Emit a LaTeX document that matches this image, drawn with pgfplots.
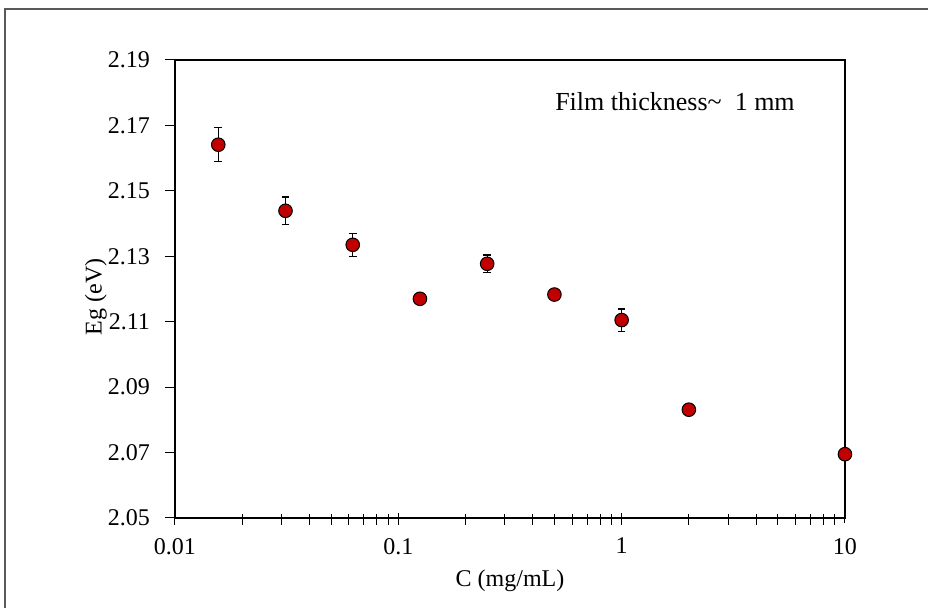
\documentclass[border=0pt]{standalone}
\usepackage{pgfplots}
\pgfplotsset{compat=1.18}
\usepackage{fontspec}
\setmainfont{Liberation Serif}
\definecolor{ptred}{HTML}{C00000}
\begin{document}
\begin{tikzpicture}
\path[use as bounding box] (0,0) rectangle (464pt,304pt);
\draw[line width=0.8pt, black!65] (2.5pt,-2pt) -- (2.5pt,299.5pt) -- (467pt,299.5pt);
\begin{axis}[
  at={(87.5pt,45pt)}, anchor=south west,
  scale only axis, width=335pt, height=229pt,
  xmode=log, xmin=0.01, xmax=10,
  ymin=2.05, ymax=2.19,
  ytick={2.05,2.07,2.09,2.11,2.13,2.15,2.17,2.19},
  xtick={0.01,0.1,1,10},
  xticklabels={0.01,0.1,1,10},
  yticklabel style={/pgf/number format/fixed,/pgf/number format/fixed zerofill,/pgf/number format/precision=2, xshift=-4pt},
  /pgf/number format/assume math mode=true,
  ticklabel style={font=\fontsize{12}{14}\selectfont},
  xticklabel style={yshift=-1.5pt},
  label style={font=\fontsize{12}{14}\selectfont},
  tick pos=left,
  tick align=outside,
  major tick length=5pt,
  minor tick length=5.5pt,
  major x tick style={yshift=2.5pt, line width=0.5pt, black},
  minor x tick style={yshift=2pt, line width=0.5pt, black},
  major y tick style={line width=0.5pt, black},
  ytick style={line width=0.5pt},
  minor y tick num=0,
  axis line style={line width=1pt},
  xlabel={C (mg/mL)},
  ylabel={Eg (eV)},
  xlabel style={at={(axis description cs:0.5,-0.138)}, anchor=center},
  ylabel style={at={(axis description cs:-0.118,0.483)}, anchor=center},
  clip=false,
]
\addplot[only marks, mark=*, mark size=3.4pt,
  mark options={fill=ptred, draw=black, line width=0.5pt},
  error bars/.cd, y dir=both, y explicit,
  error bar style={black, line width=0.6pt},
  error mark options={rotate=90, mark size=1.9pt, line width=0.6pt, black}]
coordinates {
  (0.015625,2.1641) +- (0,0.0052)
  (0.03125,2.1439) +- (0,0.0042)
  (0.0625,2.1335) +- (0,0.0035)
  (0.125,2.1170) +- (0,0)
  (0.25,2.1277) +- (0,0.0027)
  (0.5,2.1183) +- (0,0)
  (1,2.1105) +- (0,0.0034)
  (2,2.0831) +- (0,0)
  (10,2.0695) +- (0,0)
};
\node[anchor=west, inner sep=0pt, font=\fontsize{13}{15}\selectfont] at (axis description cs:0.567,0.91) {Film thickness\textasciitilde\ \ 1 mm};
\end{axis}
\end{tikzpicture}
\end{document}
